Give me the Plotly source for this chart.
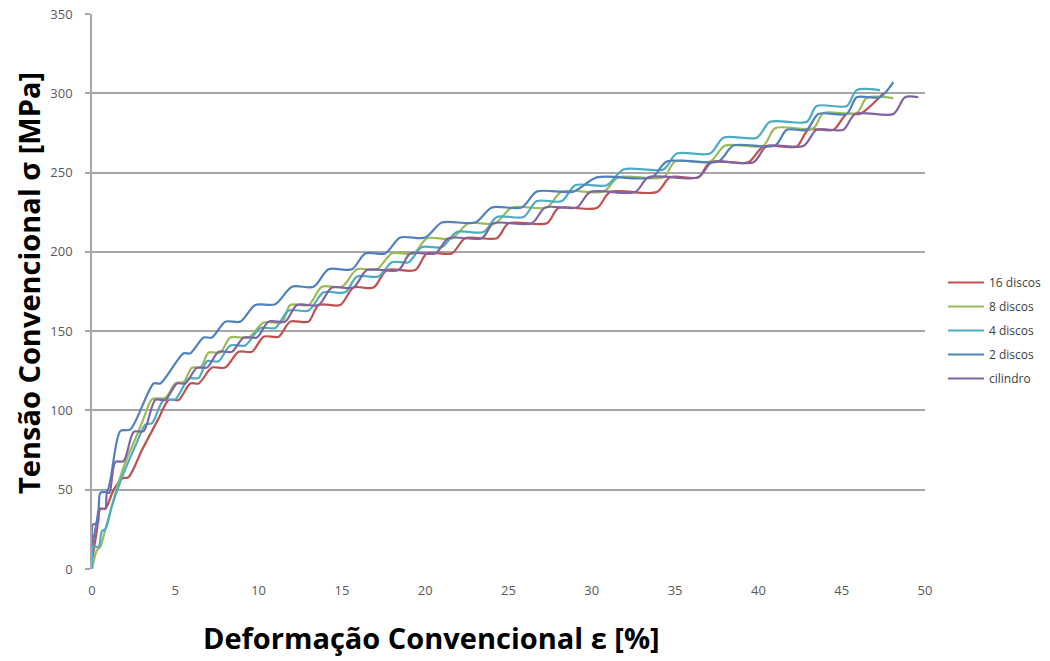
import plotly.graph_objects as go

# ---- data (strain %, stress MPa) ----
names = ["16 discos", "8 discos", "4 discos", "2 discos", "cilindro"]
colors = ["#C0504D", "#9BBB59", "#4BACC6", "#4F81BD", "#8064A2"]

red_x = [0, 0.3, 0.5, 0.8, 1.3, 1.8, 2.2, 3.0, 4.0, 4.6, 5.2, 5.9, 6.4, 7.2, 8.0, 8.8, 9.6, 10.3, 11.2,
         11.9, 13.0, 13.6, 14.9, 15.7, 16.9, 17.7, 19.4, 20.1, 21.6, 22.4, 24.3, 25.0, 27.3, 28.0, 30.3,
         31.1, 33.9, 34.7, 36.4, 37.1, 39.4, 40.3, 42.3, 43.0, 44.5, 45.3, 46.1, 47.5]
red_y = [5, 25, 38, 38, 50, 57, 58, 75, 95, 106.6, 106.6, 117, 117, 127, 127, 137, 137, 146.5, 146.5,
         156, 156, 166.5, 166.5, 177.5, 177.5, 188.5, 188.5, 199, 199, 208.6, 208.6, 218, 218, 227.6, 227.6,
         237.7, 237.7, 247, 247, 256.5, 256.5, 266.5, 266.5, 277, 277, 287, 287, 300]

green_x = [0, 0.3, 0.5, 0.8, 1.2, 1.6, 2.1, 2.6, 3.1, 3.6, 4.4, 5.0, 5.5, 6.0, 6.5, 7.0, 7.7, 8.3, 9.4,
           10.3, 11.4, 11.9, 13.0, 13.8, 15.0, 15.9, 17.1, 18.0, 19.3, 20.1, 21.6, 22.6, 24.2, 25.2, 27.3,
           28.2, 30.7, 31.6, 34.3, 35.0, 37.1, 38.0, 40.3, 41.0, 43.3, 43.9, 45.9, 46.5, 48.1]
green_y = [0, 12, 14, 25, 40, 55, 70, 82, 95, 107, 108, 117, 118, 127, 127, 136.5, 136.5, 146, 146,
           155.5, 155.5, 166.5, 166.5, 178, 178, 189, 189, 199, 199, 208.5, 208.5, 218, 218, 228, 228,
           238, 238, 247, 247, 257, 257, 267, 267, 278, 278, 287.5, 287.5, 297, 297]

aqua_x = [0, 0.1, 0.4, 0.6, 0.8, 1.2, 1.7, 2.2, 2.7, 3.2, 3.6, 4.3, 5.0, 5.8, 6.4, 6.9, 7.6, 8.3, 9.2,
          10.1, 11.0, 11.8, 13.0, 13.9, 15.2, 15.9, 17.2, 18.0, 19.0, 19.8, 21.0, 21.9, 23.5, 24.3, 25.9,
          26.7, 28.2, 29.0, 30.9, 31.9, 34.3, 35.1, 37.1, 37.9, 39.9, 40.7, 42.9, 43.5, 45.3, 45.9, 47.3]
aqua_y = [0, 14, 14, 24, 25, 40, 55, 68, 80, 91, 92, 106.6, 107, 120, 120.5, 131, 131, 141, 141,
          152, 152, 163, 163, 174.5, 174.5, 184.5, 184.5, 193.5, 193.5, 203, 203, 212.5, 212.5, 222, 222,
          232, 232, 242, 242, 252, 252, 262, 262, 272, 272, 282, 282, 292, 292, 302, 302]

blue_x = [0, 0.25, 0.4, 0.5, 0.9, 1.7, 2.3, 3.7, 4.1, 5.5, 5.9, 6.7, 7.2, 8.0, 8.9, 9.8, 11.0, 12.0, 13.3,
          14.2, 15.6, 16.4, 17.6, 18.5, 20.0, 21.0, 23.0, 24.0, 25.8, 26.7, 28.9, 30.3, 33.6, 34.5, 37.6,
          38.5, 41.0, 41.7, 42.9, 43.6, 45.3, 45.9, 47.3, 48.1]
blue_y = [14, 28, 38, 48, 49, 87, 88, 117, 117, 136, 136, 146, 146, 156, 156, 166.5, 167, 178, 178,
          189, 189, 199, 199, 209, 209, 218.5, 218.5, 228, 228, 238, 238, 247, 247, 257, 257,
          267, 267, 277, 277, 287, 287, 297.5, 297.5, 307]

purple_x = [0, 0.05, 0.35, 0.45, 0.8, 0.9, 1.05, 1.4, 1.9, 2.5, 3.1, 3.8, 4.4, 5.1, 5.6, 6.3, 6.9, 7.6, 8.4,
            9.1, 9.9, 10.6, 11.6, 12.3, 13.6, 14.4, 15.7, 16.5, 18.4, 19.1, 20.6, 21.4, 23.4, 24.1, 26.4,
            27.2, 29.1, 29.9, 32.6, 33.4, 36.4, 37.2, 39.7, 40.5, 42.7, 43.5, 45.1, 45.8, 48.1, 48.8, 49.6]
purple_y = [18, 28, 29, 38, 38, 48, 48, 67.5, 68, 86.5, 87, 106.6, 106.6, 117, 117, 127, 127, 137, 137,
            146, 146, 156, 156, 166.5, 166.5, 177.5, 177.5, 188.5, 188.5, 199, 199, 208.6, 208.6, 218, 218,
            228, 228, 237.7, 237.7, 247, 247, 256.5, 256.5, 266.7, 266.7, 277, 277, 287, 287, 297.5, 297.5]

series_x = [red_x, green_x, aqua_x, blue_x, purple_x]
series_y = [red_y, green_y, aqua_y, blue_y, purple_y]

x_ticks = [0, 5, 10, 15, 20, 25, 30, 35, 40, 45, 50]
y_ticks = [0, 50, 100, 150, 200, 250, 300, 350]

x_title = "Deformação Convencional ε [%]"
y_title = "Tensão Convencional σ [MPa]"

ML, MR, MT, MB = 92, 125, 14, 92
W, H = 1050, 661

fig = go.Figure()
for i, (nm, c, xs, ys) in enumerate(zip(names, colors, series_x, series_y)):
    fig.add_trace(go.Scatter(
        x=xs, y=ys, mode="lines", name=nm, legendgroup=f"g{i}",
        line=dict(color=c, width=2.2, shape="spline", smoothing=0.8),
    ))

pw, ph = W - ML - MR, H - MT - MB

def px_to_paper(px, py):
    return (px - ML) / pw, (H - MB - py) / ph

xt_x, xt_y = px_to_paper(431, 637)
yt_x, yt_y = px_to_paper(28, 283)
lg_x, lg_y = px_to_paper(943, 268)

fig.update_layout(
    width=W, height=H,
    margin=dict(l=ML, r=MR, t=MT, b=MB, autoexpand=False),
    paper_bgcolor="white", plot_bgcolor="white",
    font=dict(family="Open Sans, Liberation Sans, sans-serif", size=12, color="#595959"),
    showlegend=True,
    legend=dict(x=lg_x, y=lg_y, xanchor="left", yanchor="top",
                font=dict(size=12, color="#404040"), tracegroupgap=5,
                bgcolor="rgba(0,0,0,0)", itemwidth=36),
    xaxis=dict(range=[0, 50], tickvals=x_ticks, ticktext=[str(v) for v in x_ticks],
               showgrid=False, zeroline=False, showline=False,
               ticks="", ticklabelstandoff=12, tickfont=dict(size=13, color="#595959")),
    yaxis=dict(range=[0, 350], tickvals=y_ticks, ticktext=[str(v) for v in y_ticks],
               showgrid=True, gridcolor="#A6A6A6", gridwidth=1.5, zeroline=False,
               showline=True, linecolor="#A6A6A6", linewidth=1.5,
               ticks="outside", ticklen=5, tickcolor="#A6A6A6", tickwidth=1.5,
               ticklabelstandoff=10, tickfont=dict(size=13, color="#595959")),
    annotations=[
        dict(text=x_title, x=xt_x, y=xt_y, xref="paper", yref="paper", showarrow=False,
             xanchor="center", yanchor="middle",
             font=dict(family="Open Sans, sans-serif", size=29, color="#000000", weight="bold")),
        dict(text=y_title, x=yt_x, y=yt_y, xref="paper", yref="paper", showarrow=False, textangle=-90,
             xanchor="center", yanchor="middle",
             font=dict(family="Open Sans, sans-serif", size=29, color="#000000", weight="bold")),
    ],
)

fig.write_html("out.html")
